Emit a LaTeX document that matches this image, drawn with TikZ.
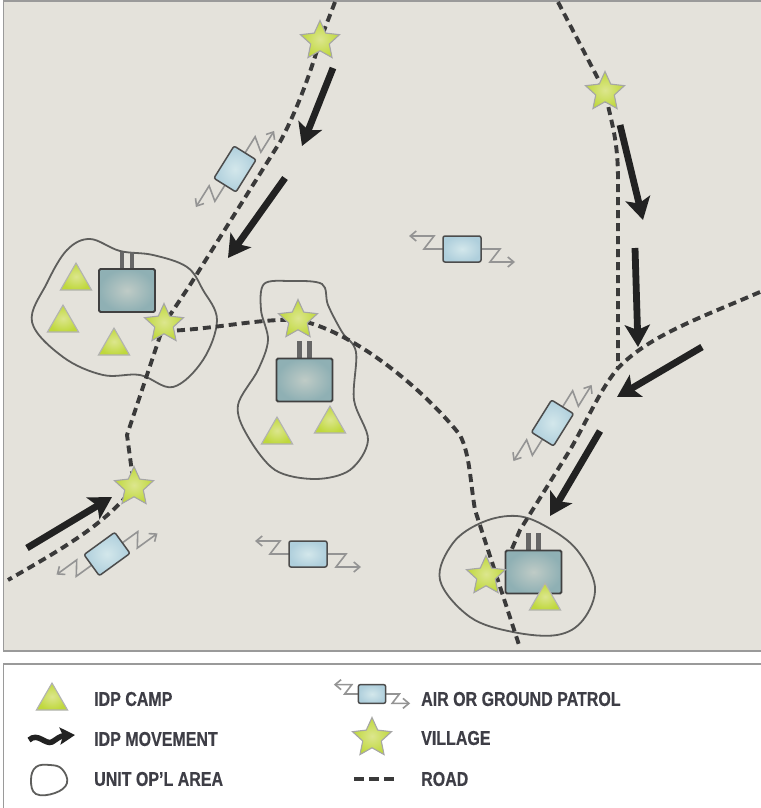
\documentclass[tikz,border=0pt]{standalone}
\usepackage{fontspec}
\setmainfont{Liberation Sans}
\newfontfamily\lgfont[FakeStretch=0.8,BoldFeatures={FakeBold=0.4}]{Liberation Sans}
\usetikzlibrary{arrows.meta,shapes.geometric}
\definecolor{mapbg}{HTML}{E4E2DB}
\definecolor{framegrey}{HTML}{9A9A9A}
\definecolor{roadc}{HTML}{3A3A3A}
\definecolor{areac}{HTML}{5E5E5C}
\definecolor{arrowc}{HTML}{222222}
\definecolor{labelc}{HTML}{3E3E46}
\tikzset{
  road/.style={draw=roadc,line width=3.9pt,dash pattern=on 8pt off 5pt},
  area/.style={draw=areac,line width=1.8pt},
  flow/.style={draw=arrowc,line width=6.8pt,-{Stealth[length=22pt,width=25pt,inset=5pt]}},
  village/.style={star,star points=5,star point ratio=2.1,minimum size=41pt,inner sep=0pt,draw=black!35,line width=1.1pt,inner color=E,outer color=F},
  camp/.style={regular polygon,regular polygon sides=3,minimum size=36pt,inner sep=0pt,draw=black!30,line width=1.1pt,inner color=E,outer color=F},
  hqbox/.style={rectangle,rounded corners=1.5pt,minimum width=56pt,minimum height=43pt,inner sep=0pt,draw=black!75,line width=1.8pt,inner color=hqin,outer color=hqout},
  stem/.style={draw=black!60,line width=4.2pt},
  patrolbox/.style={draw=black!70,line width=1.5pt,rounded corners=2pt,inner color=pin,outer color=pout},
  zig/.style={draw=black!42,line width=1.6pt,-{Straight Barb[length=6pt,width=10pt]}},
  lgtext/.style={anchor=west,inner sep=0pt,text=labelc,font=\lgfont\bfseries\fontsize{20}{21}\selectfont}
}
\definecolor{E}{HTML}{DCE68E}
\definecolor{F}{HTML}{BFD83C}
\definecolor{hqin}{HTML}{BFCBC6}
\definecolor{hqout}{HTML}{8FB0B4}
\definecolor{pin}{HTML}{D3E7EB}
\definecolor{pout}{HTML}{AFCFDC}
\newcommand{\patrolmark}[4]{%
  \begin{scope}[shift={(#1,#2)},rotate=#3,scale=#4]
    \draw[zig] (19,0) -- (38,0) -- (28,13) -- (53,13);
    \draw[zig] (-19,0) -- (-38,0) -- (-28,-13) -- (-53,-13);
    \path[patrolbox] (-19,-13) rectangle (19,13);
  \end{scope}}
\newcommand{\hqmark}[3]{%
  \draw[stem] (#1-5,#2-39) -- (#1-5,#2-20);
  \draw[stem] (#1+5,#2-39) -- (#1+5,#2-20);
  \node[hqbox] (#3) at (#1,#2) {};}
\begin{document}
\begin{tikzpicture}[x=1pt,y=-1pt]
\useasboundingbox (0,0) rectangle (760,808);
\fill[white] (0,0) rectangle (760,808);
\draw[framegrey,fill=mapbg,line width=1.2pt] (3.5,1) rectangle (775,651);
\draw[framegrey,line width=1.2pt] (3.5,664) rectangle (775,830);

% operating areas
\draw[area] plot[smooth cycle,tension=.6] coordinates {(90,239) (120,251) (153,255) (187,267) (203,290) (217,320) (203,360) (173,387) (140,375) (103,375) (63,357) (32,322) (47,283) (67,250)};
\draw[area] plot[smooth cycle,tension=.55] coordinates {(264,284) (290,281) (322,284) (328,305) (342,332) (356,352) (354,400) (368,440) (350,470) (315,479) (275,470) (247,435) (238,405) (258,370) (268,340) (261,310)};
\draw[area] plot[smooth cycle,tension=.6] coordinates {(483,522) (517,516) (547,527) (577,550) (595,587) (583,620) (557,635) (513,632) (470,617) (440,580) (453,543)};

% roads
\draw[road] (335,2) -- (320,41) .. controls (308,80) and (296,112) .. (280,142) -- (190,285) -- (164,324) -- (127,435) -- (134,487) .. controls (105,525) and (60,550) .. (8,580);
\draw[road] (558,2) -- (605,92) .. controls (612,125) and (618,140) .. (618,180) -- (618,368);
\draw[road] (760,292) .. controls (700,318) and (650,335) .. (618,368) .. controls (600,390) and (590,415) .. (570,450) -- (520,530) -- (505,565);
\draw[road] (164,331) .. controls (210,330) and (260,318) .. (298,320) .. controls (350,330) and (420,385) .. (460,435) .. controls (470,455) and (470,480) .. (475,510) -- (520,648);

% units
\hqmark{127}{290.5}{hqa}
\hqmark{304.5}{380}{hqb}
\hqmark{533.5}{572}{hqc}

% camps
\node[camp] (c1) at (76,281) {};
\node[camp] (c2) at (63,323) {};
\node[camp] (c3) at (114,346) {};
\node[camp] (c4) at (277,435) {};
\node[camp] (c5) at (330,424) {};
\node[camp] (c6) at (545,601) {};

% villages
\node[village] (v1) at (320,41) {};
\node[village] (v2) at (605,92) {};
\node[village] (v3) at (164,324) {};
\node[village] (v4) at (298,320) {};
\node[village] (v5) at (134,487) {};
\node[village] (v6) at (486,576) {};

% patrols
\patrolmark{235}{169}{58}{1}
\patrolmark{462}{249}{0}{1}
\patrolmark{552.5}{423}{58}{1}
\patrolmark{107}{554}{36}{1}
\patrolmark{308}{554}{0}{1}

% IDP movements
\coordinate (m1a) at (333,68); \coordinate (m1b) at (302,146);
\coordinate (m2a) at (285,178); \coordinate (m2b) at (228,258);
\coordinate (m3a) at (620,125); \coordinate (m3b) at (643,220);
\coordinate (m4a) at (635,248); \coordinate (m4b) at (638,347);
\coordinate (m5a) at (702,347); \coordinate (m5b) at (617,397);
\coordinate (m6a) at (600,431); \coordinate (m6b) at (550,516);
\coordinate (m7a) at (27,548); \coordinate (m7b) at (112,497);
\foreach \n in {1,...,7} \draw[flow] (m\n a) -- (m\n b);

% legend
\node[camp] (lc) at (52,701) {};
\draw[arrowc,line width=5.5pt,-{Stealth[length=15pt,width=17pt,inset=3pt]}] (29,740) .. controls (38,732) and (45,745) .. (52,742) .. controls (57,739) and (60,736) .. (75,735);
\draw[area] plot[smooth cycle,tension=.7] coordinates {(36,767) (50,765) (62,769) (67,783) (55,793) (36,794) (31,780)};
\patrolmark{372}{694}{0}{.72}
\node[village] (lv) at (372,738) {};
\coordinate (lra) at (354,779); \coordinate (lrb) at (394,779);
\draw[roadc,line width=4.5pt,dash pattern=on 10pt off 5pt] (lra) -- (lrb);
\node[lgtext] (t1) at (94,699) {IDP CAMP};
\node[lgtext] (t2) at (94,739) {IDP MOVEMENT};
\node[lgtext] (t3) at (94,779) {UNIT OP’L AREA};
\node[lgtext] (t4) at (421,699) {AIR OR GROUND PATROL};
\node[lgtext] (t5) at (421,738) {VILLAGE};
\node[lgtext] (t6) at (421,779) {ROAD};
\end{tikzpicture}
\end{document}
